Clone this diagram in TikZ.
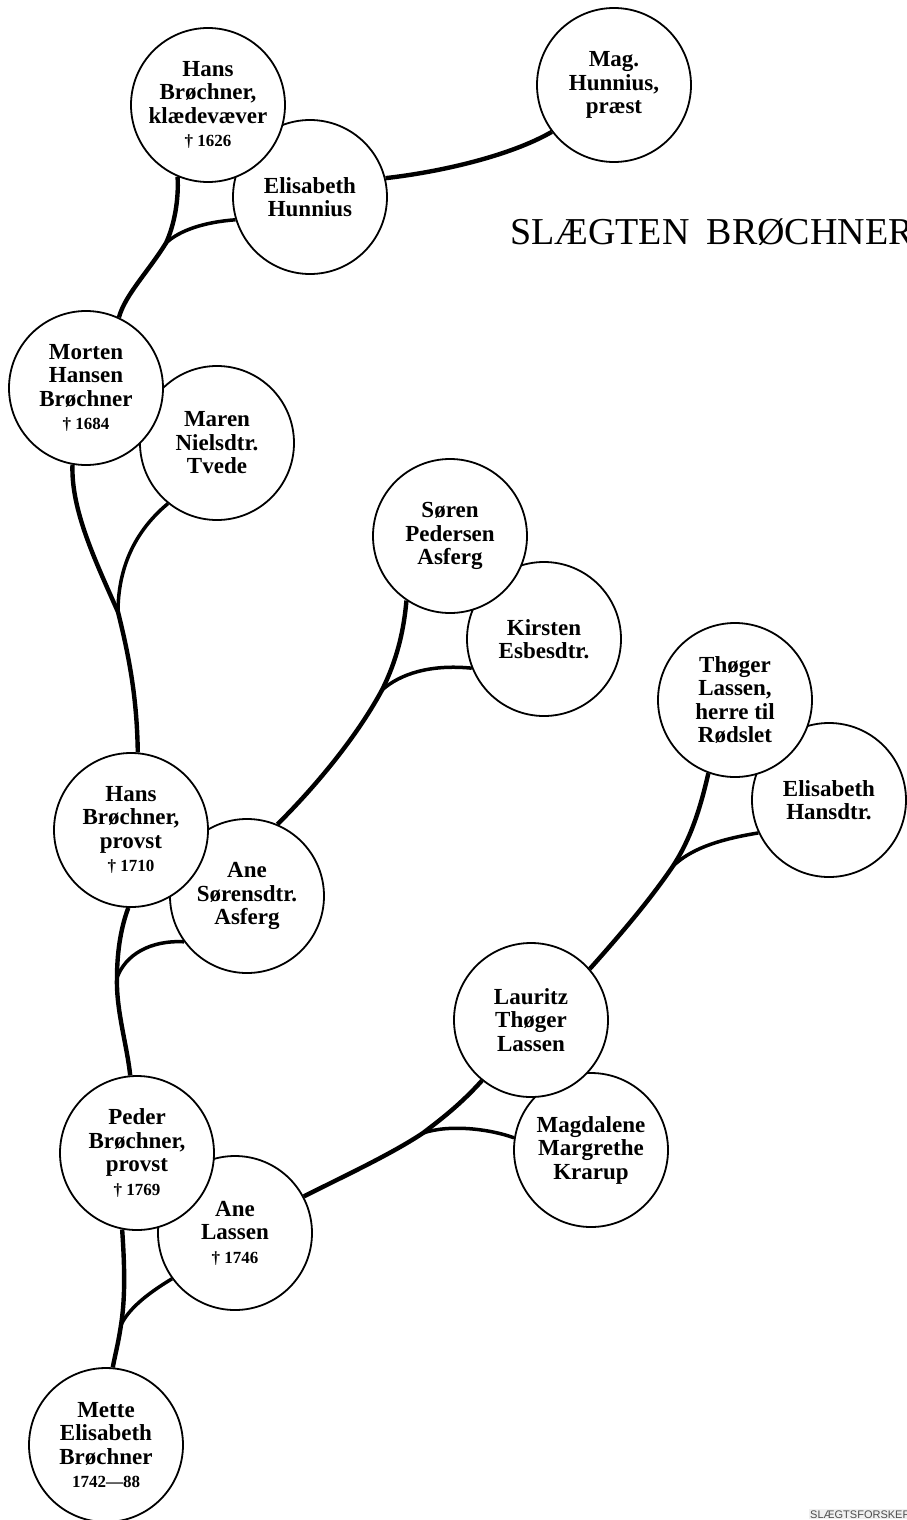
\documentclass[tikz,border=0pt]{standalone}
\usepackage{fontspec}
\setmainfont{Liberation Serif}
\newfontfamily\markfont{Liberation Sans}
\usepackage{tikz}
\usetikzlibrary{shapes.geometric}

\newcommand{\died}[1]{{\fontsize{17}{17}\selectfont † #1}}

\begin{document}
\begin{tikzpicture}[x=1pt,y=-1pt,
		person/.style={circle,draw,line width=1.8pt,fill=white,minimum size=154pt,inner sep=0pt,align=center,font=\fontsize{23}{23.5}\selectfont\bfseries},
		stem/.style={line width=4.4pt},
		twig/.style={line width=3.5pt}]
		\useasboundingbox (0,0) rectangle (906,1520);
		
		\node[anchor=base west,font=\fontsize{38}{38}\selectfont,inner sep=0pt] (title) at (510,244) {SLÆGTEN\hspace{0.45em}BRØCHNER};
		\node[anchor=base west,font=\markfont\fontsize{11}{11}\selectfont,text=gray!60!black,fill=gray!12,inner sep=1pt] (mark) at (809,1518) {SLÆGTSFORSKER};
		
		\node[person] (elisabethH) at (310,197) {Elisabeth\\Hunnius};
		\node[person] (hunnius) at (614,85) {Mag.\\Hunnius,\\præst};
		\node[person] (hansK) at (208,105) {Hans\\Brøchner,\\klædevæver\\\died{1626}};
		\node[person] (maren) at (217,443) {Maren\\Nielsdtr.\\Tvede};
		\node[person] (morten) at (86,388) {Morten\\Hansen\\Brøchner\\\died{1684}};
		\node[person] (kirsten) at (544,639) {Kirsten\\Esbesdtr.};
		\node[person] (soeren) at (450,536) {Søren\\Pedersen\\Asferg};
		\node[person] (aneS) at (247,896) {Ane\\Sørensdtr.\\Asferg};
		\node[person] (hansP) at (131,830) {Hans\\Brøchner,\\provst\\\died{1710}};
		\node[person] (elisabethHd) at (829,800) {Elisabeth\\Hansdtr.};
		\node[person] (thoeger) at (735,700) {Thøger\\Lassen,\\herre til\\Rødslet};
		\node[person] (magdalene) at (591,1150) {Magdalene\\Margrethe\\Krarup};
		\node[person] (lauritz) at (531,1020) {Lauritz\\Thøger\\Lassen};
		\node[person] (aneL) at (235,1233) {Ane\\Lassen\\\died{1746}};
		\node[person] (peder) at (137,1153) {Peder\\Brøchner,\\provst\\\died{1769}};
		\node[person] (mette) at (106,1445) {Mette\\Elisabeth\\Brøchner\\{\fontsize{17}{17}\selectfont 1742—88}};
		
		\coordinate (j1) at (166,243);
		\coordinate (j2) at (118,612);
		\coordinate (j3) at (382,690);
		\coordinate (j4) at (117,978);
		\coordinate (j5) at (673,866);
		\coordinate (j6) at (423,1133);
		\coordinate (j7) at (121,1325);
		
		\draw[stem] (hansK.247) .. controls (179,200) and (174,226) .. (j1) .. controls (148,272) and (125,295) .. (morten.65);
		\draw[twig] (elisabethH.197) .. controls (205,222) and (180,230) .. (j1);
		\draw[stem] (elisabethH.14) .. controls (440,172) and (510,156) .. (hunnius.217);
		
		\draw[stem] (morten.260) .. controls (71,510) and (95,560) .. (j2) .. controls (130,660) and (137,700) .. (hansP.85);
		\draw[twig] (maren.231) .. controls (130,535) and (118,575) .. (j2);
		
		\draw[stem] (soeren.236) .. controls (403,640) and (393,668) .. (j3) .. controls (355,740) and (312,790) .. (aneS.67);
		\draw[twig] (kirsten.202) .. controls (430,664) and (400,674) .. (j3);
		
		\draw[stem] (hansP.268) .. controls (120,930) and (117,955) .. (j4) .. controls (116,1010) and (127,1045) .. (peder.95);
		\draw[twig] (aneS.216) .. controls (150,940) and (125,955) .. (j4);
		
		\draw[stem] (thoeger.250) .. controls (700,810) and (690,840) .. (j5) .. controls (650,900) and (620,935) .. (lauritz.41);
		\draw[twig] (elisabethHd.205) .. controls (715,840) and (690,850) .. (j5);
		
		\draw[stem] (lauritz.231) .. controls (460,1105) and (440,1120) .. (j6) .. controls (390,1155) and (340,1178) .. (aneL.28);
		\draw[twig] (magdalene.171) .. controls (490,1129) and (450,1124) .. (j6);
		
		\draw[stem] (peder.259) .. controls (125,1270) and (125,1300) .. (j7) .. controls (118,1345) and (115,1355) .. (mette.85);
		\draw[twig] (aneL.216) .. controls (145,1295) and (128,1310) .. (j7);
	\end{tikzpicture}
\end{document}
